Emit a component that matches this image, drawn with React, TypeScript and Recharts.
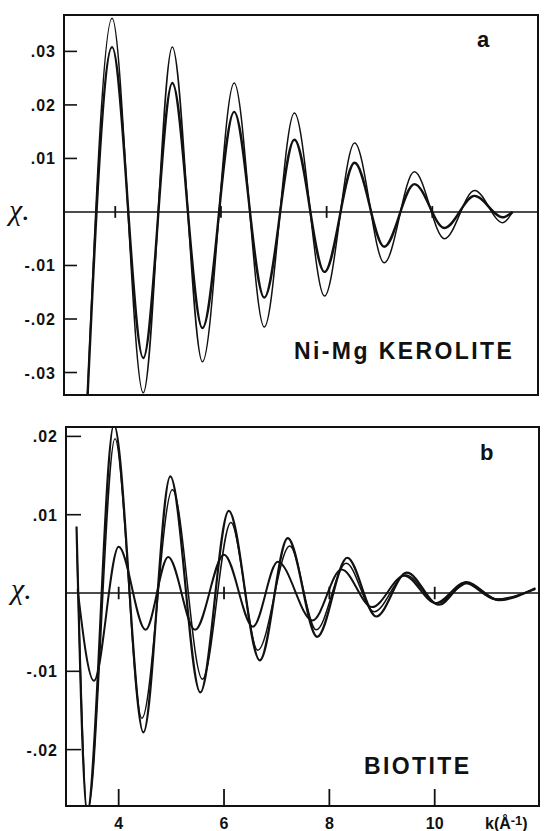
import { LineChart, Line, XAxis, YAxis, ReferenceLine, ReferenceArea } from 'recharts'

// panel a: Ni-Mg kerolite, extremes
const kTop = [3.45, 3.94, 4.53, 5.08, 5.65, 6.25, 6.82, 7.39, 7.96, 8.53, 9.09, 9.66, 10.23, 10.8, 11.33, 11.52]
const chiTopA = [-0.04, 0.0362, -0.0338, 0.0308, -0.028, 0.0241, -0.0215, 0.0185, -0.0157, 0.0129, -0.0095, 0.0075, -0.005, 0.004, -0.002, 0.0]
const chiTopB = [-0.04, 0.0308, -0.0273, 0.0241, -0.0217, 0.0187, -0.016, 0.0135, -0.0112, 0.0092, -0.0065, 0.0052, -0.003, 0.003, -0.001, 0.0]

// panel b: biotite, three spectra
const kBot1 = [3.2, 3.4, 3.91, 4.47, 4.98, 5.55, 6.09, 6.68, 7.21, 7.77, 8.34, 8.89, 9.47, 10.08, 10.6, 11.21, 11.91]
const chiBot1 = [0.0085, -0.028, 0.0215, -0.0178, 0.0149, -0.0127, 0.0105, -0.0086, 0.007, -0.0056, 0.0045, -0.003, 0.0026, -0.0015, 0.0014, -0.0009, 0.0006]
const kBot2 = [3.21, 3.41, 3.93, 4.44, 5.02, 5.59, 6.13, 6.64, 7.25, 7.75, 8.32, 8.85, 9.45, 10.05, 10.62, 11.2, 11.91]
const chiBot2 = [0.005, -0.028, 0.0197, -0.016, 0.0132, -0.011, 0.009, -0.0073, 0.006, -0.0047, 0.0038, -0.0024, 0.0023, -0.0013, 0.0012, -0.0008, 0.0006]
const kBot3 = [3.22, 3.53, 4.0, 4.51, 4.94, 5.45, 6.0, 6.55, 7.02, 7.68, 8.23, 8.81, 9.42, 10.02, 10.57, 11.15, 11.91]
const chiBot3 = [0.0005, -0.0112, 0.0059, -0.0047, 0.0046, -0.0047, 0.0049, -0.0043, 0.004, -0.0035, 0.003, -0.0018, 0.0022, -0.0013, 0.0013, -0.0008, 0.0005]

const kTicks = [4, 6, 8, 10]
const yTicksTop = [-0.03, -0.02, -0.01, 0.01, 0.02, 0.03]
const yTicksBot = [-0.02, -0.01, 0.01, 0.02]

const kDomTop: [number, number] = [3.03, 12.0]
const yDomTop: [number, number] = [-0.0342, 0.0368]
const kDomBot: [number, number] = [3.0, 11.98]
const yDomBot: [number, number] = [-0.0272, 0.0212]

const toRows = (ks: number[], vs: number[]) => ks.map((k, i) => ({ k, chi: vs[i] }))
const topA = toRows(kTop, chiTopA)
const topB = toRows(kTop, chiTopB)
const bot1 = toRows(kBot1, chiBot1)
const bot2 = toRows(kBot2, chiBot2)
const bot3 = toRows(kBot3, chiBot3)

const INK = '#111'
const FONT = '"Liberation Sans", Arial, sans-serif'

const fmtChi = (v: number) => (v < 0 ? '-' : '') + Math.abs(v).toFixed(2).replace(/^0/, '')

function LeftTick({ x, y, payload, len }: any) {
  return (
    <g>
      <line x1={x} y1={y} x2={x + len} y2={y} stroke={INK} strokeWidth={1.6} />
      <text x={x - 8} y={y + 6} textAnchor="end" fontFamily={FONT} fontWeight={700} fontSize={16} letterSpacing={1} fill={INK}>
        {fmtChi(payload.value)}
      </text>
    </g>
  )
}

function BottomTick({ x, y, payload }: any) {
  return (
    <g>
      <line x1={x} y1={y} x2={x} y2={y - 17} stroke={INK} strokeWidth={1.8} />
      <text x={x} y={y + 23} textAnchor="middle" fontFamily={FONT} fontWeight={700} fontSize={16} fill={INK}>
        {payload.value}
      </text>
    </g>
  )
}

export default function App() {
  return (
    <div style={{ position: 'absolute', left: 0, top: 0, width: 544, height: 831, background: '#fff' }}>
      <div style={{ position: 'absolute', left: 0, top: 0 }}>
        <LineChart width={544} height={410} margin={{ top: 15, right: 6, bottom: 15, left: 0 }}>
          <XAxis type="number" dataKey="k" domain={kDomTop} allowDataOverflow hide />
          <YAxis
            type="number"
            domain={yDomTop}
            allowDataOverflow
            ticks={yTicksTop}
            width={64}
            axisLine={false}
            tickLine={false}
            tickSize={0}
            tickMargin={0}
            interval={0}
            tick={<LeftTick len={13} />}
          />
          <ReferenceArea x1={kDomTop[0]} x2={kDomTop[1]} y1={yDomTop[0]} y2={yDomTop[1]} fill="none" stroke={INK} strokeWidth={2} />
          <ReferenceLine y={0} stroke={INK} strokeWidth={1.6} />
          {kTicks.map((k) => (
            <ReferenceLine key={k} segment={[{ x: k, y: -0.0011 }, { x: k, y: 0.0011 }]} stroke={INK} strokeWidth={1.8} />
          ))}
          <Line data={topA} dataKey="chi" type="monotone" stroke={INK} strokeWidth={1.5} dot={false} isAnimationActive={false} />
          <Line data={topB} dataKey="chi" type="monotone" stroke={INK} strokeWidth={2.4} dot={false} isAnimationActive={false} />
          <text x={9} y={220} fontFamily='"Liberation Serif", serif' fontStyle="italic" fontSize={30} fill={INK}>χ.</text>
          <text x={477} y={47} fontFamily={FONT} fontWeight={700} fontSize={22} fill={INK}>a</text>
          <text x={294} y={359} fontFamily={FONT} fontWeight={700} fontSize={23} letterSpacing={2.4} fill={INK}>Ni-Mg KEROLITE</text>
        </LineChart>
      </div>
      <div style={{ position: 'absolute', left: 0, top: 410 }}>
        <LineChart width={544} height={421} margin={{ top: 17, right: 5, bottom: 0, left: 0 }}>
          <XAxis
            type="number"
            dataKey="k"
            domain={kDomBot}
            allowDataOverflow
            ticks={kTicks}
            height={25}
            axisLine={false}
            tickLine={false}
            tickSize={0}
            tickMargin={0}
            interval={0}
            tick={<BottomTick />}
          />
          <YAxis
            type="number"
            domain={yDomBot}
            allowDataOverflow
            ticks={yTicksBot}
            width={66}
            axisLine={false}
            tickLine={false}
            tickSize={0}
            tickMargin={0}
            interval={0}
            tick={<LeftTick len={15} />}
          />
          <ReferenceArea x1={kDomBot[0]} x2={kDomBot[1]} y1={yDomBot[0]} y2={yDomBot[1]} fill="none" stroke={INK} strokeWidth={2} />
          <ReferenceLine y={0} stroke={INK} strokeWidth={1.6} />
          {kTicks.map((k) => (
            <ReferenceLine key={k} segment={[{ x: k, y: -0.0008 }, { x: k, y: 0.0008 }]} stroke={INK} strokeWidth={1.8} />
          ))}
          <Line data={bot1} dataKey="chi" type="monotone" stroke={INK} strokeWidth={2.2} dot={false} isAnimationActive={false} />
          <Line data={bot2} dataKey="chi" type="monotone" stroke={INK} strokeWidth={1.5} dot={false} isAnimationActive={false} />
          <Line data={bot3} dataKey="chi" type="monotone" stroke={INK} strokeWidth={2} dot={false} isAnimationActive={false} />
          <text x={11} y={189} fontFamily='"Liberation Serif", serif' fontStyle="italic" fontSize={30} fill={INK}>χ.</text>
          <text x={480} y={50} fontFamily={FONT} fontWeight={700} fontSize={22} fill={INK}>b</text>
          <text x={364} y={364} fontFamily={FONT} fontWeight={700} fontSize={23} letterSpacing={2.4} fill={INK}>BIOTITE</text>
          <text x={485} y={419} fontFamily={FONT} fontWeight={700} fontSize={16} fill={INK}>
            k(Å<tspan dy={-4} fontSize={13}>-1</tspan><tspan dy={4}>)</tspan>
          </text>
        </LineChart>
      </div>
    </div>
  )
}
